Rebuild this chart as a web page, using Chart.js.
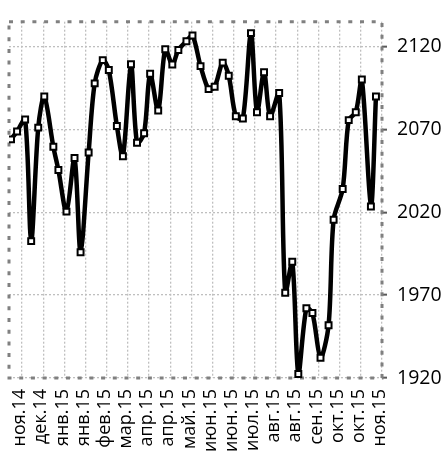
<!DOCTYPE html>
<html><head><meta charset="utf-8">
<script src="https://cdn.jsdelivr.net/npm/chart.js@4.4.1/dist/chart.umd.min.js"></script>
<style>html,body{margin:0;padding:0;background:#fff}#wrap{width:446px;height:459px}</style>
</head><body><div id="wrap"><canvas id="c" width="446" height="459"></canvas></div>
<script>
// ---- data ----
const axisStart = '2014-11-14';
const firstTickDate = '2014-11-27';
const tickStepDays = 21;
const tickLabels = ['ноя.14','дек.14','янв.15','янв.15','фев.15','мар.15','апр.15','апр.15','май.15','июн.15','июн.15','июл.15','авг.15','авг.15','сен.15','окт.15','окт.15','ноя.15'];
const dates = ['2014-11-16','2014-11-22','2014-11-30','2014-12-06','2014-12-13','2014-12-19','2014-12-28','2015-01-02','2015-01-10','2015-01-18','2015-01-24','2015-02-01','2015-02-07','2015-02-15','2015-02-21','2015-03-01','2015-03-07','2015-03-15','2015-03-21','2015-03-28','2015-04-03','2015-04-11','2015-04-18','2015-04-25','2015-05-01','2015-05-09','2015-05-15','2015-05-23','2015-05-31','2015-06-06','2015-06-14','2015-06-20','2015-06-27','2015-07-04','2015-07-12','2015-07-18','2015-07-25','2015-07-31','2015-08-09','2015-08-15','2015-08-22','2015-08-28','2015-09-05','2015-09-11','2015-09-19','2015-09-27','2015-10-02','2015-10-11','2015-10-17','2015-10-24','2015-10-30','2015-11-08','2015-11-13'];
const values = [2064, 2068.8, 2076, 2002.6, 2071.1, 2089.9, 2059.5, 2045.5, 2020.4, 2052.8, 1995.9, 2056.1, 2097.8, 2111.8, 2105.9, 2072.1, 2053.8, 2109.3, 2061.9, 2067.7, 2103.6, 2081.4, 2118.4, 2109.2, 2117.9, 2123.2, 2126.7, 2108.2, 2094.3, 2095.7, 2110.3, 2102.4, 2077.9, 2076.6, 2128.1, 2080.4, 2104.5, 2077.9, 2092, 1971.4, 1990.1, 1922.4, 1962.1, 1959.2, 1932.2, 1951.8, 2015.5, 2034.1, 2075.6, 2080.4, 2100.1, 2023.5, 2089.9];
const yTicks = [1920, 1970, 2020, 2070, 2120];
const yMin = 1920, yMax = 2135;

// ---- helpers ----
const DAY = 86400000;
const dayOf = s => (Date.parse(s) - Date.parse(axisStart)) / DAY;
const firstTick = dayOf(firstTickDate);
const xMax = firstTick + tickStepDays * (tickLabels.length - 1);
const points = dates.map((d, i) => ({x: dayOf(d), y: values[i]}));

Chart.defaults.font.family = "'Open Sans', sans-serif";
Chart.defaults.color = '#000';

const frame = {
  id: 'frame',
  beforeDatasetsDraw(chart) {
    const {ctx, chartArea: a} = chart;
    ctx.save();
    ctx.strokeStyle = '#808080';
    ctx.lineWidth = 3;
    ctx.setLineDash([4, 7.7]);
    ctx.strokeRect(a.left, a.top, a.right - a.left, a.bottom - a.top);
    ctx.restore();
  }
};

new Chart(document.getElementById('c'), {
  type: 'line',
  data: {
    datasets: [{
      data: points,
      borderColor: '#000',
      borderWidth: 4.5,
      tension: 0.3,
      pointStyle: 'rect',
      pointRadius: 4.2,
      pointBorderWidth: 2,
      pointBackgroundColor: '#fff',
      pointBorderColor: '#000',
      fill: false
    }]
  },
  options: {
    responsive: false,
    animation: false,
    devicePixelRatio: 1,
    layout: {padding: {left: 9, top: 7, right: 0, bottom: 0}},
    plugins: {legend: {display: false}, tooltip: {enabled: false}},
    scales: {
      x: {
        type: 'linear',
        min: 0,
        max: xMax,
        afterBuildTicks: s => { s.ticks = tickLabels.map((_, i) => ({value: firstTick + tickStepDays * i})); },
        afterFit: s => { s.height = 81; },
        ticks: {
          autoSkip: false, minRotation: 90, maxRotation: 90, padding: 11, labelOffset: -2,
          font: {size: 18},
          callback: (v, i) => tickLabels[i]
        },
        grid: {color: '#bfbfbf', lineWidth: 1.3, drawTicks: false},
        border: {display: false, dash: [2, 2]}
      },
      y: {
        position: 'right',
        min: yMin,
        max: yMax,
        afterBuildTicks: s => { s.ticks = yTicks.map(v => ({value: v})); },
        afterFit: s => { s.width = 64; },
        ticks: {padding: 10, font: {size: 19.5}, callback: v => String(v)},
        grid: {color: '#bfbfbf', lineWidth: 1.3, drawTicks: true, tickLength: 5, tickColor: '#595959', tickWidth: 2, tickBorderDash: []},
        border: {display: false, dash: [2, 2]}
      }
    }
  },
  plugins: [frame]
});
</script></body></html>
